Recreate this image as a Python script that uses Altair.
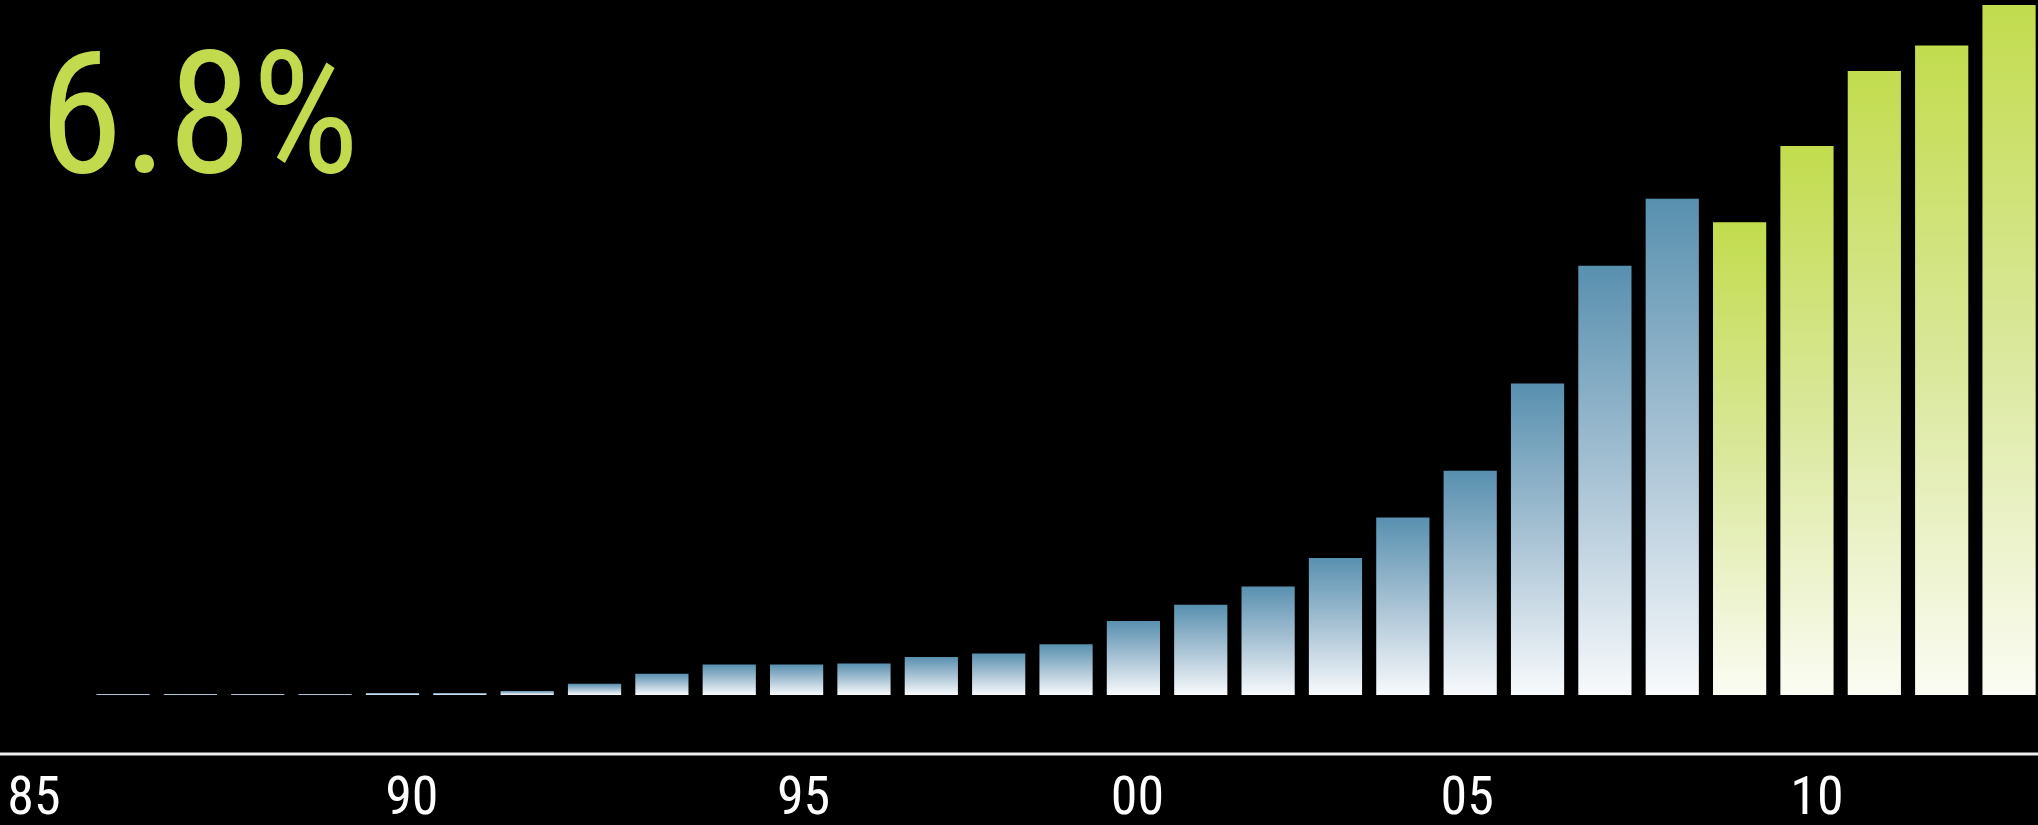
import altair as alt
import pandas as pd

# ---- data ----
YEARS = list(range(1985, 2014))
VALUES = [0.01, 0.01, 0.01, 0.01, 0.02, 0.02, 0.04, 0.11, 0.21, 0.30,
          0.30, 0.31, 0.375, 0.41, 0.50, 0.73, 0.89, 1.07, 1.35, 1.75,
          2.21, 3.07, 4.23, 4.89, 4.66, 5.41, 6.15, 6.40, 6.80]
SERIES = ["history"] * 24 + ["recent"] * 5
TICK_YEARS = [1985, 1990, 1995, 2000, 2005, 2010]
TICK_LABELS = ["85", "90", "95", "00", "05", "10"]
HEADLINE = ["6.8%"]

FONT = "Liberation Sans Narrow, Roboto Condensed, DejaVu Sans Condensed, sans-serif"

df = pd.DataFrame({"year": YEARS, "value": VALUES, "series": SERIES})

blue_grad = alt.Gradient(
    gradient="linear",
    stops=[alt.GradientStop(color="#5890AF", offset=0),
           alt.GradientStop(color="#A9C3D5", offset=0.5),
           alt.GradientStop(color="#F8FAFC", offset=1)],
    x1=0, x2=0, y1=0, y2=1)
green_grad = alt.Gradient(
    gradient="linear",
    stops=[alt.GradientStop(color="#C2DC4E", offset=0),
           alt.GradientStop(color="#DAE89C", offset=0.5),
           alt.GradientStop(color="#FBFCF3", offset=1)],
    x1=0, x2=0, y1=0, y2=1)

label_map = "{" + ",".join(f"'{y}':'{l}'" for y, l in zip(TICK_YEARS, TICK_LABELS)) + "}"

x_enc = alt.X(
    "year:O",
    scale=alt.Scale(domain=YEARS, paddingInner=0.21, paddingOuter=0.0725, align=0.76),
    axis=alt.Axis(
        values=TICK_YEARS,
        labelExpr=f"{label_map}[''+datum.value]",
        title=None, domain=False, ticks=False, tickSize=0,
        labelAngle=0, labelFont=FONT, labelFontSize=54, labelColor="#ffffff",
        labelBaseline="alphabetic", labelPadding=118,
        labelOffset={"condition": [
            {"test": "datum.value == 1985", "value": -89},
            {"test": "datum.value == 1990", "value": -48},
            {"test": "datum.value == 1995", "value": 7},
            {"test": "datum.value == 2000", "value": 4},
            {"test": "datum.value == 2005", "value": -3},
            {"test": "datum.value == 2010", "value": 10},
        ], "value": 0},
        labelOverlap=False, labelFlush=False, grid=False,
    ),
)
y_enc = alt.Y("value:Q", scale=alt.Scale(domain=[0, 6.8], nice=False, zero=True), axis=None)

base = alt.Chart(df)
blue = base.transform_filter("datum.series == 'history'").mark_bar(color=blue_grad).encode(x=x_enc, y=y_enc)
green = base.transform_filter("datum.series == 'recent'").mark_bar(color=green_grad).encode(x=x_enc, y=y_enc)

headline = alt.Chart(pd.DataFrame({"t": HEADLINE})).mark_text(
    font=FONT, fontSize=170, color="#C2DA4E", align="left", baseline="alphabetic"
).encode(text="t:N", x=alt.value(-50), y=alt.value(167))

rule = alt.Chart(pd.DataFrame({"k": [0]})).mark_rule(color="#eeeeee", strokeWidth=3).encode(
    x=alt.value(-89), x2=alt.value(1949), y=alt.value(749))

chart = alt.layer(blue, green, rule, headline).properties(
    width=1949, height=690,
    autosize=alt.AutoSizeParams(type="none"),
    padding={"left": 89, "top": 5, "right": 0, "bottom": 130},
    background="#000000",
).configure_view(stroke=None)

chart.save("out.html", embed_options={"renderer": "svg", "actions": False})
